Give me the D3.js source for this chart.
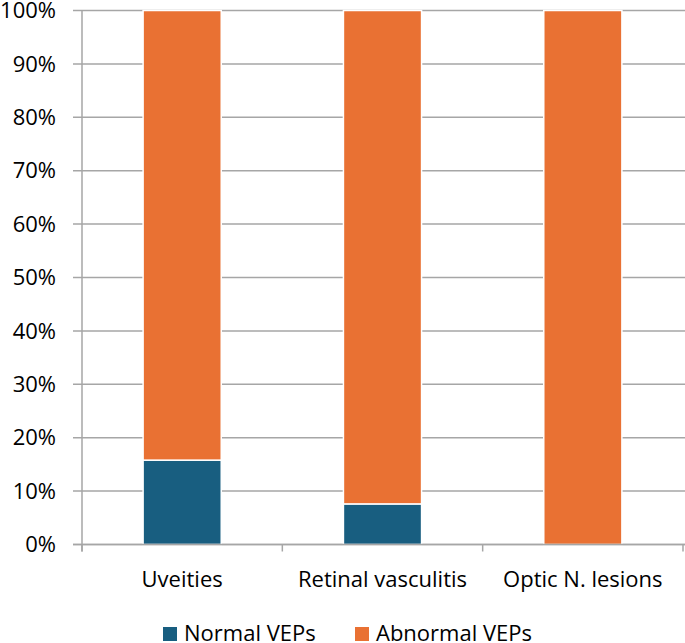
<!DOCTYPE html>
<html>
<head>
<meta charset="utf-8">
<script src="https://cdn.jsdelivr.net/npm/d3@7"></script>
<style>
  body { margin: 0; background: #fff; }
  text { font-family: "Open Sans", "Liberation Sans", sans-serif; fill: #000; }
</style>
</head>
<body>
<svg id="chart" width="685" height="643"></svg>
<script>
const categories = ["Uveities", "Retinal vasculitis", "Optic N. lesions"];
const normalVEPs = [15.8, 7.6, 0];
const abnormalVEPs = [84.2, 92.4, 100];
const seriesNames = ["Normal VEPs", "Abnormal VEPs"];
const colors = ["#185e80", "#e97133"];
const yTicks = [0, 10, 20, 30, 40, 50, 60, 70, 80, 90, 100];

const svg = d3.select("#chart");
const plotLeft = 82, plotRight = 683, plotTop = 10.5, plotBottom = 544.5;

const x = d3.scaleBand().domain(categories).range([plotLeft, plotRight]).paddingInner(0.61).paddingOuter(0.305);
const y = d3.scaleLinear().domain([0, 100]).range([plotBottom, plotTop]);

// gridlines + y ticks
svg.append("g")
  .selectAll("line")
  .data(yTicks)
  .enter()
  .append("line")
  .attr("x1", plotLeft - 9)
  .attr("x2", 685)
  .attr("y1", d => y(d))
  .attr("y2", d => y(d))
  .attr("stroke", "#a6a6a6")
  .attr("stroke-width", 1.5);

svg.append("g")
  .selectAll("text")
  .data(yTicks)
  .enter()
  .append("text")
  .attr("x", 56)
  .attr("y", d => y(d))
  .attr("dy", "0.35em")
  .attr("text-anchor", "end")
  .attr("font-size", 22)
  .text(d => d + "%");

// stacked bars
const rows = categories.map((c, i) => ({ cat: c, normal: normalVEPs[i], abnormal: abnormalVEPs[i] }));
const stack = d3.stack().keys(["normal", "abnormal"])(rows);

svg.append("g")
  .selectAll("g")
  .data(stack)
  .enter()
  .append("g")
  .attr("fill", (d, i) => colors[i])
  .selectAll("rect")
  .data(d => d.filter(s => s[1] - s[0] > 0))
  .enter()
  .append("rect")
  .attr("x", d => x(d.data.cat))
  .attr("width", x.bandwidth())
  .attr("y", d => y(d[1]))
  .attr("height", d => y(d[0]) - y(d[1]))
  .attr("stroke", "#fff")
  .attr("stroke-width", 1.5);

// axes lines
svg.append("line")
  .attr("x1", plotLeft).attr("x2", plotLeft)
  .attr("y1", plotTop).attr("y2", plotBottom + 7)
  .attr("stroke", "#a6a6a6").attr("stroke-width", 1.5);
svg.append("line")
  .attr("x1", plotLeft - 9).attr("x2", 685)
  .attr("y1", plotBottom).attr("y2", plotBottom)
  .attr("stroke", "#a6a6a6").attr("stroke-width", 1.5);

const step = (plotRight - plotLeft) / categories.length;
svg.append("g")
  .selectAll("line")
  .data(d3.range(categories.length + 1))
  .enter()
  .append("line")
  .attr("x1", d => plotLeft + d * step)
  .attr("x2", d => plotLeft + d * step)
  .attr("y1", plotBottom)
  .attr("y2", plotBottom + 7)
  .attr("stroke", "#a6a6a6")
  .attr("stroke-width", 1.5);

svg.append("g")
  .selectAll("text")
  .data(categories)
  .enter()
  .append("text")
  .attr("x", d => x(d) + x.bandwidth() / 2)
  .attr("y", 587)
  .attr("text-anchor", "middle")
  .attr("font-size", 22)
  .text(d => d);

// legend
const legendX = [163, 355];
const legend = svg.append("g")
  .selectAll("g")
  .data(seriesNames)
  .enter()
  .append("g")
  .attr("transform", (d, i) => "translate(" + legendX[i] + ",0)");
legend.append("rect")
  .attr("y", 627)
  .attr("width", 14)
  .attr("height", 14)
  .attr("fill", (d, i) => colors[i]);
legend.append("text")
  .attr("x", 21)
  .attr("y", 641)
  .attr("font-size", 22)
  .text(d => d);
</script>
</body>
</html>
